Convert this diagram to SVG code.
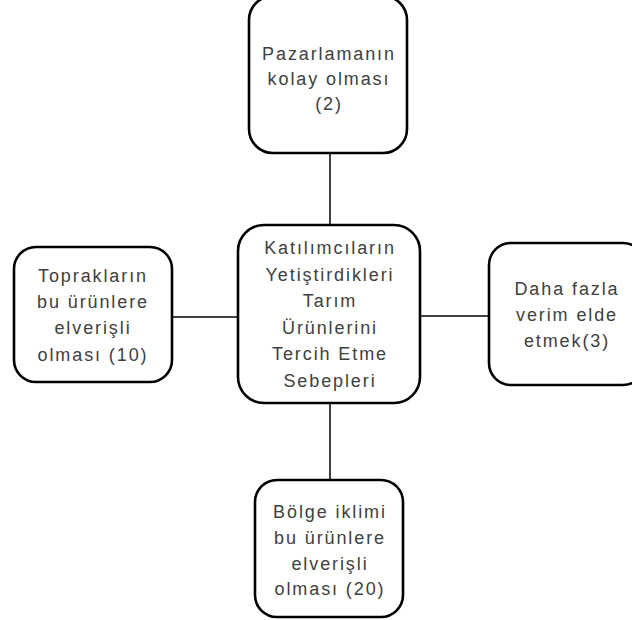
<svg xmlns="http://www.w3.org/2000/svg" width="632" height="620" viewBox="0 0 632 620">
<style>
.box{fill:#fff;stroke:#000;stroke-width:2.6}
.con{stroke:#000;stroke-width:1.5;fill:none}
text{font-family:"Liberation Sans",Arial,sans-serif;font-size:18px;fill:#404040;text-anchor:middle;letter-spacing:1.9px}
</style>
<rect width="632" height="620" fill="#fff"/>
<g id="connectors">
<line class="con" x1="330" y1="153" x2="330" y2="225"/>
<line class="con" x1="330" y1="403" x2="330" y2="480"/>
<line class="con" x1="172" y1="317" x2="238" y2="317"/>
<line class="con" x1="420" y1="316" x2="489" y2="316"/>
</g>
<g id="node-center">
<rect class="box" x="238" y="225" width="182" height="178" rx="26"/>
<text x="330" y="254">Katılımcıların</text>
<text x="330" y="280.6">Yetiştirdikleri</text>
<text x="330" y="307.2">Tarım</text>
<text x="330" y="333.8">Ürünlerini</text>
<text x="330" y="360.4">Tercih Etme</text>
<text x="330" y="387">Sebepleri</text>
</g>
<g id="node-top">
<rect class="box" x="249" y="-4" width="158" height="157" rx="24"/>
<text x="329" y="60">Pazarlamanın</text>
<text x="329" y="85">kolay olması</text>
<text x="329" y="110">(2)</text>
</g>
<g id="node-left">
<rect class="box" x="14" y="247" width="158" height="135" rx="22"/>
<text x="93" y="282">Toprakların</text>
<text x="93" y="308">bu ürünlere</text>
<text x="93" y="334">elverişli</text>
<text x="93" y="361">olması (10)</text>
</g>
<g id="node-right">
<rect class="box" x="489" y="243" width="156" height="142" rx="22"/>
<text x="567" y="295">Daha fazla</text>
<text x="567" y="321">verim elde</text>
<text x="567" y="347">etmek(3)</text>
</g>
<g id="node-bottom">
<rect class="box" x="255" y="480" width="148" height="137" rx="22"/>
<text x="330" y="518">Bölge iklimi</text>
<text x="330" y="544">bu ürünlere</text>
<text x="330" y="570">elverişli</text>
<text x="330" y="595">olması (20)</text>
</g>
</svg>
